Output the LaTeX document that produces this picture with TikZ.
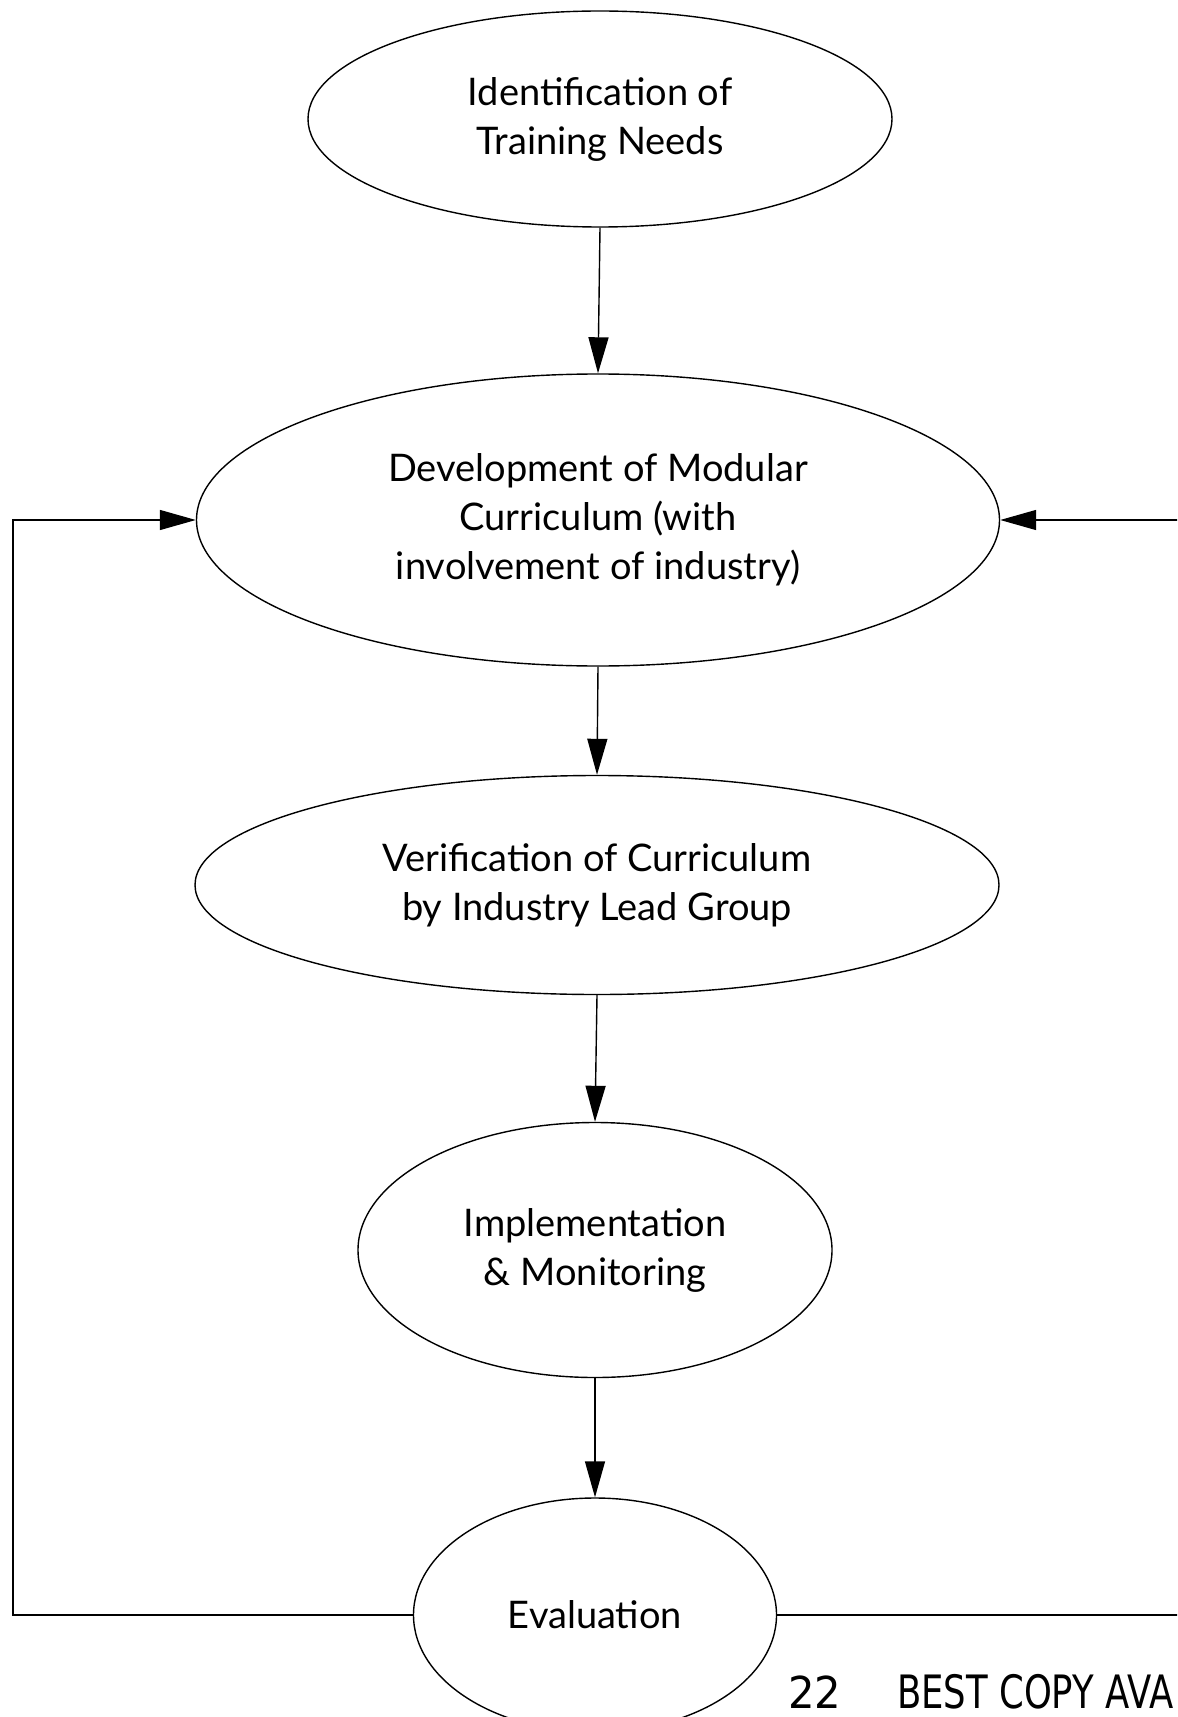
\documentclass[tikz,border=0pt]{standalone}
\usepackage{fontspec}
\setmainfont{Lato}
\newfontfamily\stampfont{DejaVu Sans}
\usetikzlibrary{shapes.geometric,arrows.meta}
\begin{document}
\begin{tikzpicture}[x=0.5pt,y=-0.5pt,
  oval/.style={draw,ellipse,line width=0.7pt,inner sep=0pt,align=center,
    font=\fontsize{19}{24.5}\selectfont},
  flow/.style={line width=0.7pt,-{Triangle[length=18pt,width=10pt]}},
  plain/.style={line width=0.7pt}]
\useasboundingbox (0,0) rectangle (1177,1717);
\clip (0,0) rectangle (1177,1717);
\node[oval,minimum width=292pt,minimum height=108pt] (e1) at (600,119) {Identification of\\Training Needs};
\node[oval,minimum width=401.5pt,minimum height=146pt] (e2) at (598,520) {Development of Modular\\Curriculum (with\\involvement of industry)};
\node[oval,minimum width=402pt,minimum height=109.5pt] (e3) at (597,885) {Verification of Curriculum\\by Industry Lead Group};
\node[oval,minimum width=237pt,minimum height=127.5pt] (e4) at (595,1250) {Implementation\\\& Monitoring};
\node[oval,minimum width=181.5pt,minimum height=117pt] (e5) at (595,1615) {Evaluation};
\draw[flow] (e1.south) -- (e2.north);
\draw[flow] (e2.south) -- (e3.north);
\draw[flow] (e3.south) -- (e4.north);
\draw[flow] (e4.south) -- (e5.north);
\coordinate (L) at (13,1000);
\coordinate (R) at (1180,1000);
\draw[flow] (e5.west) -- (e5.west -| L) -- (L |- e2.west) -- (e2.west);
\draw[plain] (e5.east) -- (e5.east -| R);
\draw[flow] (e2.east -| R) -- (e2.east);
\node[anchor=base west,inner sep=0pt,font=\stampfont\fontsize{22}{22}\selectfont] (num) at (788,1708) {\scalebox{0.95}[1]{22}};
\node[anchor=base east,inner sep=0pt,font=\stampfont\fontsize{23}{23}\selectfont] (stamp) at (1174,1708) {\scalebox{0.77}[1]{BEST COPY AVA}};
\end{tikzpicture}
\end{document}
